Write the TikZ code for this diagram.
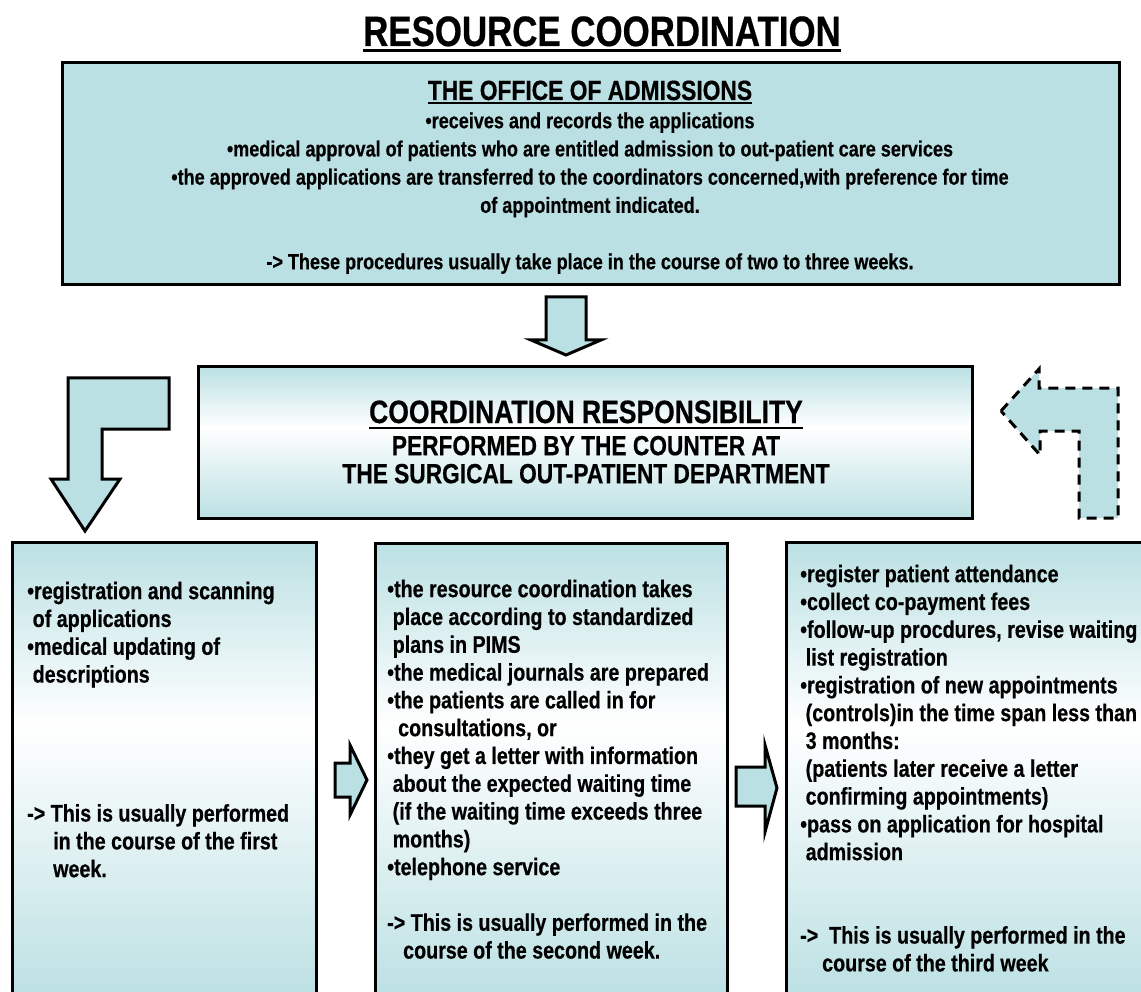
\documentclass[tikz,border=0pt]{standalone}
\usepackage{fontspec}
\setmainfont{Liberation Sans}[FakeStretch=0.82, BoldFeatures={FakeBold=0.5}]
\definecolor{boxteal}{RGB}{187,224,227}
\pgfdeclareverticalshading{boxshade}{100bp}{color(0bp)=(boxteal); color(25bp)=(boxteal); color(55bp)=(white); color(75bp)=(boxteal); color(100bp)=(boxteal)}
\newcommand\ind[1]{\hspace*{#1pt}}
\begin{document}
\begin{tikzpicture}[x=1pt,y=-1pt,
  flatbox/.style={draw=black, line width=3pt, fill=boxteal},
  shadedbox/.style={draw=black, line width=3pt, shading=boxshade},
  blockarrow/.style={draw=black, line width=3pt, fill=boxteal, line join=miter},
  dasharrow/.style={draw=black, line width=3pt, fill=boxteal, dash pattern=on 10pt off 7pt},
  bodytxt/.style={inner sep=0pt, font=\bfseries\fontsize{24}{27.8}\selectfont, align=left, anchor=north west},
  headtxt/.style={inner sep=0pt, anchor=base}
]
\useasboundingbox (0,0) rectangle (1141,992);
\fill[white] (0,0) rectangle (1141,992);

% boxes
\path[flatbox] (62,63) rectangle (1119,285);
\path[shadedbox] (198,367) rectangle (972,518);
\path[shadedbox] (12,542) rectangle (316,1000);
\path[shadedbox] (375,543) rectangle (727,1000);
\path[shadedbox] (786,542) rectangle (1150,1000);

% block arrows
\path[blockarrow] (546,297) -- (586,297) -- (586,340) -- (601,340) -- (566,355) -- (531,340) -- (546,340) -- cycle;
\path[blockarrow] (68,378) -- (169,378) -- (169,429) -- (102,429) -- (102,479) -- (120,479) -- (85,531) -- (51,479) -- (68,479) -- cycle;
\path[dasharrow] (1001,411) -- (1039,369) -- (1039,388) -- (1118,388) -- (1118,518) -- (1079,518) -- (1079,431) -- (1040,431) -- (1040,455) -- cycle;
\path[blockarrow] (335,763) -- (350,763) -- (350,745) -- (367,780) -- (350,815) -- (350,797) -- (335,797) -- cycle;
\path[blockarrow] (736,767) -- (765,767) -- (765,745) -- (777,788) -- (765,832) -- (765,806) -- (736,806) -- cycle;

% title
\node[headtxt, font=\bfseries\fontsize{42.5}{50}\selectfont] (title) at (602,46) {RESOURCE COORDINATION};
\draw[line width=3pt] ([yshift=-5pt]title.base west) -- ([yshift=-5pt]title.base east);

% office of admissions
\node[headtxt, font=\bfseries\fontsize{27.8}{32}\selectfont] (offhead) at (590,100) {THE OFFICE OF ADMISSIONS};
\draw[line width=2pt] ([yshift=-3.5pt]offhead.base west) -- ([yshift=-3.5pt]offhead.base east);
\node[inner sep=0pt, anchor=north, align=center, font=\bfseries\fontsize{22}{28.2}\selectfont] (offbody) at (590,108.3)
{\strut •receives and records the applications\\
•medical approval of patients who are entitled admission to out-patient care services\\
•the approved applications are transferred to the coordinators concerned,with preference for time\\
of appointment indicated.\\
\strut\\
-> These procedures usually take place in the course of two to three weeks.};

% coordination responsibility
\node[headtxt, font=\bfseries\fontsize{32.3}{36}\selectfont] (coordhead) at (586,423) {COORDINATION RESPONSIBILITY};
\draw[line width=2.5pt] ([yshift=-5pt]coordhead.base west) -- ([yshift=-5pt]coordhead.base east);
\node[inner sep=0pt, anchor=north, align=center, font=\bfseries\fontsize{27.7}{28}\selectfont] (coordsub) at (586,435.4)
{\strut PERFORMED BY THE COUNTER AT\\
THE SURGICAL OUT-PATIENT DEPARTMENT};

% bottom texts
\node[bodytxt] (firstweek) at (27,579.5)
{\strut •registration and scanning\\
\ind{5.5}of applications\\
•medical updating of\\
\ind{5.5}descriptions\\
\strut\\ \strut\\ \strut\\ \strut\\
-> This is usually performed\\
\ind{26}in the course of the first\\
\ind{26}week.};

\node[bodytxt] (secondweek) at (387,577.5)
{\strut •the resource coordination takes\\
\ind{5.5}place according to standardized\\
\ind{5.5}plans in PIMS\\
•the medical journals are prepared\\
•the patients are called in for\\
\ind{11}consultations, or\\
•they get a letter with information\\
\ind{5.5}about the expected waiting time\\
\ind{5.5}(if the waiting time exceeds three\\
\ind{5.5}months)\\
•telephone service\\
\strut\\
-> This is usually performed in the\\
\ind{16}course of the second week.};

\node[bodytxt] (thirdweek) at (800,562.5)
{\strut •register patient attendance\\
•collect co-payment fees\\
•follow-up procdures, revise waiting\\
\ind{5.5}list registration\\
•registration of new appointments\\
\ind{5.5}(controls)in the time span less than\\
\ind{5.5}3 months:\\
\ind{5.5}(patients later receive a letter\\
\ind{5.5}confirming appointments)\\
•pass on application for hospital\\
\ind{5.5}admission\\
\strut\\ \strut\\
->\ind{11}This is usually performed in the\\
\ind{22}course of the third week};
\end{tikzpicture}
\end{document}
